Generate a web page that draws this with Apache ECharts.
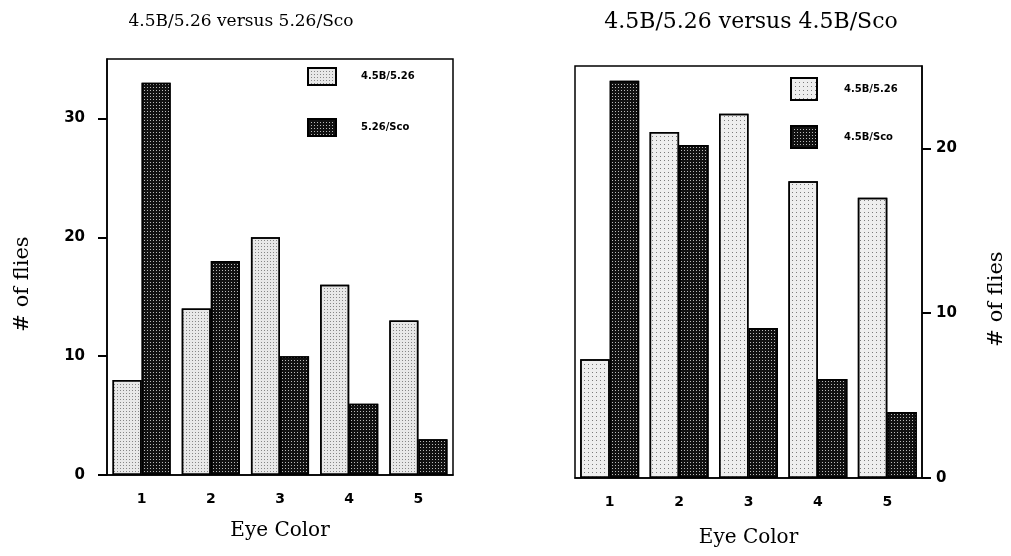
<!DOCTYPE html>
<html>
<head>
<meta charset="utf-8">
<script src="https://cdn.jsdelivr.net/npm/echarts@6/dist/echarts.min.js"></script>
<style>html,body{margin:0;padding:0;background:#fff}#c{width:1011px;height:556px}</style>
</head>
<body>
<div id="c"></div>
<script>
const categories = ['1', '2', '3', '4', '5'];
const leftLight = [8, 14, 20, 16, 13];     // 4.5B/5.26
const leftDark = [33, 18, 10, 6, 3];       // 5.26/Sco
const rightLight = [7.2, 21, 22.1, 18, 17]; // 4.5B/5.26
const rightDark = [24.1, 20.2, 9.1, 6, 4];  // 4.5B/Sco
const leftTicks = [0, 10, 20, 30];
const rightTicks = [0, 10, 20];

const serif = 'DejaVu Serif';
const lightDecalL = {symbol: 'circle', symbolSize: 1, dashArrayX: [[1, 1.5]], dashArrayY: [1, 1.5], color: '#666'};
const lightDecalR = {symbol: 'circle', symbolSize: 1, dashArrayX: [[1, 3]], dashArrayY: [1, 2.5], color: '#555'};
const darkDecal = {symbol: 'rect', symbolSize: 0.9, dashArrayX: [[1, 2]], dashArrayY: [1, 2], color: '#ccc'};
const lightStyleL = {color: '#e8e8e8', borderColor: '#000', borderWidth: 1.5, decal: lightDecalL};
const lightStyleR = {color: '#eeeeee', borderColor: '#000', borderWidth: 1.5, decal: lightDecalR};
const darkStyle = {color: '#111', borderColor: '#000', borderWidth: 1.5, decal: darkDecal};

function xAx(gi, gap) {
  return {
    type: 'category', gridIndex: gi, data: categories,
    name: 'Eye Color', nameLocation: 'middle', nameGap: gap,
    nameTextStyle: {fontFamily: serif, fontSize: 20, color: '#000'},
    axisLine: {lineStyle: {color: '#000', width: 1.5}},
    axisTick: {alignWithLabel: true, length: 10, lineStyle: {color: '#000', width: 2}},
    axisLabel: {fontFamily: 'DejaVu Sans', fontWeight: 'bold', fontSize: 14, color: '#000', margin: 17},
    splitLine: {show: false}
  };
}
function yAx(gi, pos, max, gap, margin, ticks, shift) {
  return {
    type: 'value', gridIndex: gi, position: pos, min: 0, max: max, interval: 10,
    name: '# of flies', nameLocation: 'middle', nameGap: gap, nameRotate: 90,
    nameTextStyle: {fontFamily: serif, fontSize: 21, color: '#000', padding: [0, shift, 0, 0]},
    axisLine: {show: true, lineStyle: {color: '#000', width: 1.5}},
    axisTick: {show: true, length: 9, customValues: ticks, lineStyle: {color: '#000', width: 2}},
    axisLabel: {fontFamily: 'DejaVu Sans', fontWeight: 'bold', fontSize: 15, color: '#000', margin: margin,
      customValues: ticks},
    splitLine: {show: false}
  };
}

const chart = echarts.init(document.getElementById('c'), null, {renderer: 'canvas'});
chart.setOption({
  animation: false,
  backgroundColor: '#fff',
  title: [
    {text: '4.5B/5.26 versus 5.26/Sco', left: 236, top: 8, textAlign: 'center',
      textStyle: {fontFamily: serif, fontSize: 17, fontWeight: 'normal', color: '#000'}},
    {text: '4.5B/5.26 versus 4.5B/Sco', left: 746, top: 6, textAlign: 'center',
      textStyle: {fontFamily: serif, fontSize: 22, fontWeight: 'normal', color: '#000'}}
  ],
  legend: [
    {orient: 'vertical', left: 307, top: 67, padding: 0, icon: 'rect', itemWidth: 28, itemHeight: 17, itemGap: 32,
      data: ['4.5B/5.26 ', '5.26/Sco'],
      textStyle: {fontFamily: 'DejaVu Sans', fontWeight: 'bold', fontSize: 10, color: '#000', padding: [0, 0, 0, 20]}},
    {orient: 'vertical', left: 790, top: 77, padding: 0, icon: 'rect', itemWidth: 26, itemHeight: 22, itemGap: 24,
      data: ['4.5B/5.26', '4.5B/Sco'],
      textStyle: {fontFamily: 'DejaVu Sans', fontWeight: 'bold', fontSize: 10, color: '#000', padding: [0, 0, 0, 22]}}
  ],
  grid: [
    {left: 107, right: 558, top: 59, bottom: 81, show: true, borderColor: '#000', borderWidth: 1.5, backgroundColor: 'transparent'},
    {left: 575, right: 89, top: 66, bottom: 78, show: true, borderColor: '#000', borderWidth: 1.5, backgroundColor: 'transparent'}
  ],
  xAxis: [xAx(0, 46), xAx(1, 50)],
  yAxis: [yAx(0, 'left', 35, 74, 22, leftTicks, 34), yAx(1, 'right', 25, 64, 14, rightTicks, 54)],
  series: [
    {name: '4.5B/5.26 ', type: 'bar', xAxisIndex: 0, yAxisIndex: 0, data: leftLight, barGap: '0%', barCategoryGap: '16%', itemStyle: lightStyleL},
    {name: '5.26/Sco', type: 'bar', xAxisIndex: 0, yAxisIndex: 0, data: leftDark, barGap: '0%', barCategoryGap: '16%', itemStyle: darkStyle},
    {name: '4.5B/5.26', type: 'bar', xAxisIndex: 1, yAxisIndex: 1, data: rightLight, barGap: '0%', barCategoryGap: '15%', itemStyle: lightStyleR},
    {name: '4.5B/Sco', type: 'bar', xAxisIndex: 1, yAxisIndex: 1, data: rightDark, barGap: '0%', barCategoryGap: '15%', itemStyle: darkStyle}
  ]
});
</script>
</body>
</html>
